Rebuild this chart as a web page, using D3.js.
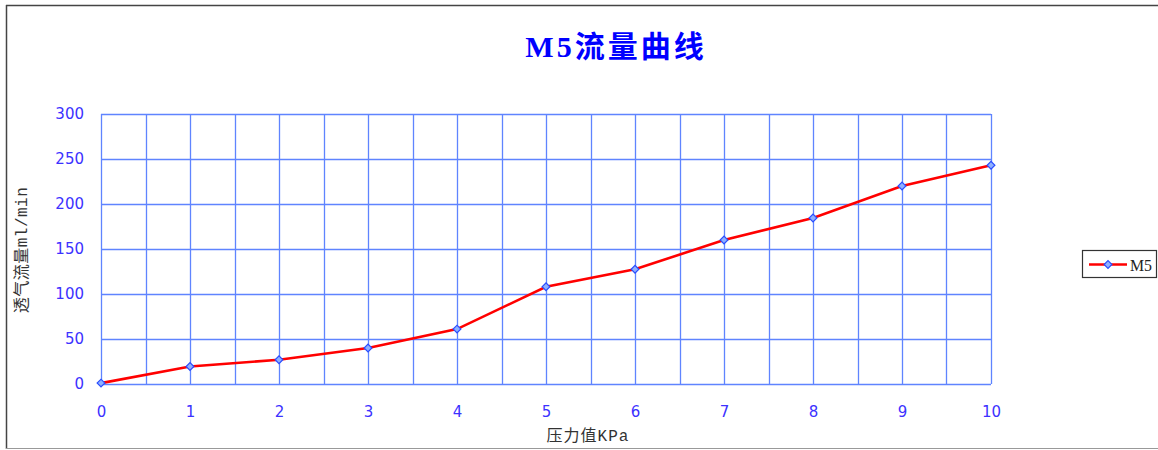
<!DOCTYPE html>
<html><head><meta charset="utf-8">
<script src="https://cdn.jsdelivr.net/npm/d3@7/dist/d3.min.js"></script>
<style>body{margin:0;background:#fff}svg{display:block}</style>
</head><body>
<svg id="c" width="1158" height="450"></svg>
<script>
const pressures = [0,1,2,3,4,5,6,7,8,9,10];
const flowM5 = [1,19.5,27,40,61,108,127.5,160,184.5,220,243];
const yTicks = [0,50,100,150,200,250,300];
const xTicks = [0,1,2,3,4,5,6,7,8,9,10];
const xGrid = d3.range(0,10.01,0.5);

const svg = d3.select("#c");
// frame
svg.append("line").attr("x1",6).attr("x2",1158).attr("y1",5.5).attr("y2",5.5).attr("stroke","#444").attr("stroke-width",1.5);
svg.append("line").attr("x1",6.5).attr("x2",6.5).attr("y1",5).attr("y2",449).attr("stroke","#444").attr("stroke-width",1.5);
svg.append("line").attr("x1",6).attr("x2",1158).attr("y1",448.5).attr("y2",448.5).attr("stroke","#999").attr("stroke-width",1);

const x = d3.scaleLinear().domain([0,10]).range([101,991]);
const y = d3.scaleLinear().domain([0,300]).range([384,114]);
const gridColor = "#5f84ff";
const g = svg.append("g");
g.selectAll(".vg").data(xGrid).join("line")
  .attr("x1",d=>Math.round(x(d))+0.5).attr("x2",d=>Math.round(x(d))+0.5)
  .attr("y1",y(300)).attr("y2",y(0)).attr("stroke",gridColor).attr("stroke-width",1.3);
g.selectAll(".hg").data(yTicks).join("line")
  .attr("y1",d=>Math.round(y(d))+0.5).attr("y2",d=>Math.round(y(d))+0.5)
  .attr("x1",x(0)).attr("x2",x(10)).attr("stroke",gridColor).attr("stroke-width",1.3);

const tickColor = "#3c32ff";
const yAxis = svg.append("g").attr("transform",`translate(${x(0)},0)`)
  .call(d3.axisLeft(y).tickValues(yTicks).tickSize(0).tickPadding(17));
const xAxis = svg.append("g").attr("transform",`translate(0,${y(0)})`)
  .call(d3.axisBottom(x).tickValues(xTicks).tickSize(0).tickPadding(22));
[yAxis,xAxis].forEach(a=>{
  a.select(".domain").remove();
  a.selectAll("text").attr("fill",tickColor).style("font-family","'DejaVu Sans', Verdana, sans-serif").style("font-size","15px");
});

// line
const line = d3.line().x((d,i)=>x(pressures[i])).y(d=>y(d));
svg.append("path").datum(flowM5).attr("d",line).attr("fill","none").attr("stroke","#ff0000").attr("stroke-width",2.6);
const marker = d3.symbol().type(d3.symbolSquare).size(30);
svg.selectAll(".pt").data(flowM5).join("path")
  .attr("transform",(d,i)=>`translate(${x(pressures[i])},${y(d)}) rotate(45)`)
  .attr("d",marker).attr("fill","#8fb0ff").attr("stroke","#2a4dff").attr("stroke-width",1.2);

// title
svg.append("text").attr("x",616).attr("y",57).attr("text-anchor","middle")
  .attr("fill","#0000ff").attr("font-weight","bold")
  .style("font-family","'Liberation Serif','Noto Sans CJK SC',serif").style("font-size","30px").style("letter-spacing","3px")
  .text("M5流量曲线");

// axis titles
svg.append("text").attr("x",588).attr("y",441).attr("text-anchor","middle").attr("fill","#333")
  .style("font-family","'Liberation Mono','Noto Sans CJK SC',monospace").style("font-size","16px").style("letter-spacing","1px").text("压力值KPa");
svg.append("text").attr("transform","translate(27,250) rotate(-90)").attr("text-anchor","middle").attr("fill","#333")
  .style("font-family","'Liberation Mono','Noto Sans CJK SC',monospace").style("font-size","16px").style("letter-spacing","0.5px").text("透气流量ml/min");

// legend
const lg = svg.append("g");
lg.append("rect").attr("x",1082.5).attr("y",250.5).attr("width",74).attr("height",27).attr("fill","#fff").attr("stroke","#333").attr("stroke-width",1.2);
lg.append("line").attr("x1",1089).attr("x2",1127).attr("y1",264.5).attr("y2",264.5).attr("stroke","#ff0000").attr("stroke-width",2.6);
lg.append("path").attr("transform","translate(1108,264.5) rotate(45)").attr("d",marker).attr("fill","#8fb0ff").attr("stroke","#2a4dff").attr("stroke-width",1.2);
lg.append("text").attr("x",1130).attr("y",271).attr("fill","#222")
  .style("font-family","'Liberation Serif',serif").style("font-size","17px").attr("textLength",22).attr("lengthAdjust","spacingAndGlyphs").text("M5");
</script>
</body></html>
